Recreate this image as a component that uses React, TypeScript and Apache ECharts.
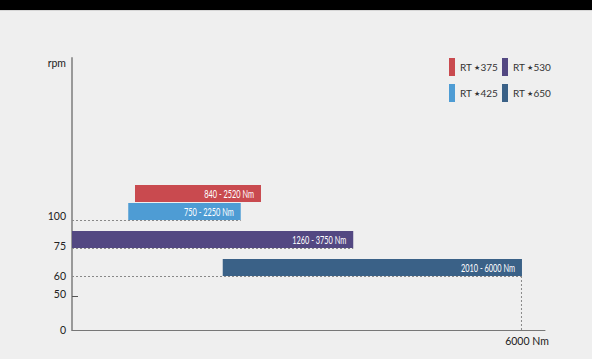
import React, { useEffect, useRef } from "react";
import * as echarts from "echarts";

const models = ["RT★375", "RT★425", "RT★530", "RT★650"];
const torqueMin = [840, 750, 1260, 2010];
const torqueMax = [2520, 2250, 3750, 6000];
const barStart = [840, 750, 0, 2010];
const rpm = [100, 100, 75, 60];
const stackIndex = [1, 0, 0, 0];
const colors = ["#c94a4f", "#4e9cd4", "#534882", "#3a6187"];
const rpmTicks = [0, 50, 60, 75, 100];
const xTickValue = 6000;
const xTickLabel = "6000 Nm";

// layout: axis units (px above the x axis) for each rpm tick
const tickAxisPos = [0, 34, 54, 82, 110];
const tickLabelLift = [0, 4, 0, 4, 8];
const AXIS_MAX = 272;
const BAR_H = 17;
const RPM_LABEL_POS = 267;

function rpmToAxis(v: number): number {
  for (let i = 0; i < rpmTicks.length - 1; i++) {
    if (v <= rpmTicks[i + 1]) {
      const t = (v - rpmTicks[i]) / (rpmTicks[i + 1] - rpmTicks[i]);
      return tickAxisPos[i] + t * (tickAxisPos[i + 1] - tickAxisPos[i]);
    }
  }
  return tickAxisPos[tickAxisPos.length - 1];
}

export default function App() {
  const ref = useRef<HTMLDivElement>(null);
  useEffect(() => {
    document.body.style.margin = "0";
    const chart = echarts.init(ref.current!, undefined, { renderer: "svg" });
    const font = "Lato, 'Noto Sans', sans-serif";

    const series: any[] = models.map((name, i) => {
      const bottom = rpmToAxis(rpm[i]) + stackIndex[i] * (BAR_H + 1);
      return {
        type: "custom",
        name,
        color: colors[i],
        itemStyle: { color: colors[i] },
        encode: { x: [0, 1], y: [2, 3] },
        data: [[barStart[i], torqueMax[i], bottom, bottom + BAR_H]],
        renderItem: (_p: any, api: any) => {
          const p0 = api.coord([api.value(0), api.value(2)]);
          const p1 = api.coord([api.value(1), api.value(3)]);
          const origin = api.coord([0, api.value(2)]);
          const base = api.coord([0, 0]);
          const children: any[] = [
            {
              type: "rect",
              shape: { x: p0[0], y: p1[1], width: p1[0] - p0[0], height: p0[1] - p1[1] },
              style: { fill: colors[i] },
            },
            {
              type: "text",
              x: p1[0] - 7,
              y: (p0[1] + p1[1]) / 2,
              scaleX: 0.7,
              style: {
                x: 0,
                y: 0,
                text: `${torqueMin[i]} - ${torqueMax[i]} Nm`,
                align: "right",
                verticalAlign: "middle",
                fill: "#ffffff",
                fontSize: 10.5,
                fontFamily: font,
              },
            },
          ];
          if (stackIndex[i] === 0) {
            children.unshift({
              type: "line",
              shape: { x1: origin[0], y1: p0[1] + 0.5, x2: p1[0], y2: p0[1] + 0.5 },
              style: { stroke: "#888", lineWidth: 1, lineDash: [2, 2] },
            });
          }
          if (torqueMax[i] === xTickValue) {
            children.push({
              type: "line",
              shape: { x1: p1[0] - 0.5, y1: p0[1], x2: p1[0] - 0.5, y2: base[1] },
              style: { stroke: "#888", lineWidth: 1, lineDash: [2, 2] },
            });
          }
          return { type: "group", children };
        },
      };
    });

    const legendText = {
      color: "#333",
      fontSize: 10,
      fontFamily: font,
      rich: { s: { fontSize: 7, color: "#333", fontFamily: font } },
    };
    const legendFormatter = (n: string) => n.replace("★", " {s|★}");

    const liftRich: any = {};
    tickLabelLift.forEach((l) => {
      liftRich["l" + l] = {
        fontSize: 10.5,
        color: "#222",
        fontFamily: font,
        padding: [0, 0, l, 0],
      };
    });

    chart.setOption({
      animation: false,
      backgroundColor: "#efefef",
      graphic: [
        { type: "rect", shape: { x: 0, y: 0, width: 592, height: 10 }, style: { fill: "#000" } },
        { type: "rect", shape: { x: 0, y: 10, width: 592, height: 1 }, style: { fill: "#d6d6d6" } },
      ],
      legend: [
        {
          left: 449,
          top: 58,
          orient: "vertical",
          padding: 0,
          itemWidth: 6,
          itemHeight: 18,
          itemGap: 8,
          icon: "rect",
          data: [models[0], models[1]],
          formatter: legendFormatter,
          textStyle: legendText,
        },
        {
          left: 502,
          top: 58,
          orient: "vertical",
          padding: 0,
          itemWidth: 6,
          itemHeight: 18,
          itemGap: 8,
          icon: "rect",
          data: [models[2], models[3]],
          formatter: legendFormatter,
          textStyle: legendText,
        },
      ],
      grid: { left: 72, right: 47, top: 58, bottom: 29 },
      xAxis: {
        type: "value",
        min: 0,
        max: 6307,
        splitLine: { show: false },
        axisLine: { show: true, lineStyle: { color: "#777", width: 1 } },
        axisTick: { show: false },
        axisLabel: {
          customValues: [xTickValue],
          formatter: () => xTickLabel,
          color: "#222",
          fontSize: 10.5,
          fontFamily: font,
          margin: 5,
          padding: [0, 0, 0, 10],
        },
      },
      yAxis: {
        type: "value",
        min: 0,
        max: AXIS_MAX,
        splitLine: { show: false },
        axisLine: { show: true, lineStyle: { color: "#999", width: 2 } },
        axisTick: {
          show: true,
          inside: true,
          length: 6,
          customValues: [rpmToAxis(50)],
          lineStyle: { color: "#555", width: 1 },
        },
        axisLabel: {
          customValues: [...rpmTicks.map(rpmToAxis), RPM_LABEL_POS],
          formatter: (v: number) => {
            if (v === RPM_LABEL_POS) return "{l0|rpm}";
            const idx = rpmTicks.findIndex((r) => Math.abs(rpmToAxis(r) - v) < 0.01);
            return idx >= 0 ? `{l${tickLabelLift[idx]}|${rpmTicks[idx]}}` : "";
          },
          color: "#222",
          fontSize: 10.5,
          fontFamily: font,
          margin: 6,
          rich: liftRich,
        },
      },
      series,
    });
    return () => chart.dispose();
  }, []);
  return (
    <div
      ref={ref}
      style={{ position: "fixed", left: 0, top: 0, width: 592, height: 359 }}
    />
  );
}
